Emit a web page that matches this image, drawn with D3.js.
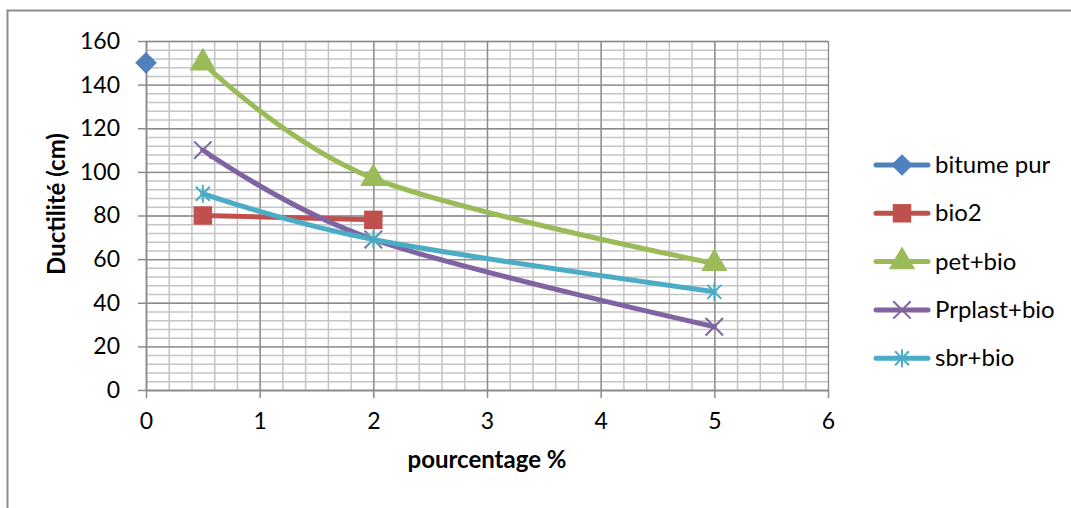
<html>

<head>
    <meta charset="utf-8">
    <script src="https://d3js.org/d3.v7.min.js"></script>
    <style type="text/css">
        body {
            margin: 0;
            background-color: #ffffff;
        }

        #mychart {
            width: 1071px;
            height: 508px;
        }

        text {
            font-family: Lato, "Open Sans", sans-serif;
        }
    </style>
</head>

<body>

    <div id="mychart"></div>

    <script type="text/javascript">

        // data
        const seriesNames = ["bitume pur", "bio2", "pet+bio", "Prplast+bio", "sbr+bio"]
        const seriesColors = ["#4F81BD", "#C0504D", "#9BBB59", "#8064A2", "#4BACC6"]
        const seriesMarkers = ["diamond", "square", "triangle", "x", "star"]

        const bitumeX = [0]
        const bitumeY = [150]
        const bio2X = [0.5, 2]
        const bio2Y = [80, 78]
        const petX = [0.5, 2, 5]
        const petY = [150, 97, 58]
        const prplastX = [0.5, 2, 5]
        const prplastY = [110, 69, 29]
        const sbrX = [0.5, 2, 5]
        const sbrY = [90, 69, 45]

        const xTicks = [0, 1, 2, 3, 4, 5, 6]
        const yTicks = [0, 20, 40, 60, 80, 100, 120, 140, 160]

        const xTitle = "pourcentage %"
        const yTitle = "Ductilité (cm)"

        const allX = [bitumeX, bio2X, petX, prplastX, sbrX]
        const allY = [bitumeY, bio2Y, petY, prplastY, sbrY]

        const width = 1071
        const height = 508

        const plotLeft = 146
        const plotRight = 828
        const plotTop = 41
        const plotBottom = 390

        const svg = d3.select("#mychart").append("svg")
            .attr("width", width)
            .attr("height", height)

        // outer chart border
        svg.append("rect")
            .attr("x", 7.5)
            .attr("y", 10.5)
            .attr("width", width + 10)
            .attr("height", height + 10)
            .attr("fill", "none")
            .attr("stroke", "#8c8c8c")
            .attr("stroke-width", 2)

        const x = d3.scaleLinear().domain([0, 6]).range([plotLeft, plotRight])
        const y = d3.scaleLinear().domain([0, 160]).range([plotBottom, plotTop])

        // minor grid
        svg.append("g")
            .attr("transform", `translate(0,${plotBottom})`)
            .call(d3.axisBottom(x).tickValues(d3.range(0, 30).map(d => d / 5)).tickSize(-(plotBottom - plotTop)).tickFormat(""))
            .call(g => g.select(".domain").remove())
            .call(g => g.selectAll("line").attr("stroke", "#c4c4c4").attr("stroke-width", 1.5))

        svg.append("g")
            .attr("transform", `translate(${plotLeft},0)`)
            .call(d3.axisLeft(y).tickValues(d3.range(0, 41).map(d => d * 4)).tickSize(-(plotRight - plotLeft)).tickFormat(""))
            .call(g => g.select(".domain").remove())
            .call(g => g.selectAll("line").attr("stroke", "#c4c4c4").attr("stroke-width", 1.5))

        // major grid
        svg.append("g")
            .attr("transform", `translate(0,${plotBottom})`)
            .call(d3.axisBottom(x).tickValues(xTicks).tickSize(-(plotBottom - plotTop)).tickFormat(""))
            .call(g => g.select(".domain").remove())
            .call(g => g.selectAll("line").attr("stroke", "#8a8a8a").attr("stroke-width", 1.3))

        svg.append("g")
            .attr("transform", `translate(${plotLeft},0)`)
            .call(d3.axisLeft(y).tickValues(yTicks).tickSize(-(plotRight - plotLeft)).tickFormat(""))
            .call(g => g.select(".domain").remove())
            .call(g => g.selectAll("line").attr("stroke", "#8a8a8a").attr("stroke-width", 1.3))

        // axes with outside ticks
        svg.append("g")
            .attr("transform", `translate(0,${plotBottom})`)
            .call(d3.axisBottom(x).tickValues(xTicks).tickFormat(d3.format("d")).tickSize(8).tickSizeOuter(0).tickPadding(15))
            .call(g => g.select(".domain").attr("stroke", "#8a8a8a").attr("stroke-width", 1.5))
            .call(g => g.selectAll("line").attr("stroke", "#8a8a8a").attr("stroke-width", 1.5))
            .call(g => g.selectAll("text").attr("font-size", 23).attr("fill", "#000").style("font-family", "Lato"))

        svg.append("g")
            .attr("transform", `translate(${plotLeft},0)`)
            .call(d3.axisLeft(y).tickValues(yTicks).tickSize(8).tickSizeOuter(0).tickPadding(18))
            .call(g => g.select(".domain").attr("stroke", "#8a8a8a").attr("stroke-width", 1.5))
            .call(g => g.selectAll("line").attr("stroke", "#8a8a8a").attr("stroke-width", 1.5))
            .call(g => g.selectAll("text").attr("font-size", 23).attr("fill", "#000").style("font-family", "Lato"))

        // titles
        svg.append("text")
            .attr("x", 487)
            .attr("y", 468)
            .attr("text-anchor", "middle")
            .attr("font-size", 24)
            .attr("font-weight", "bold")
            .text(xTitle)

        svg.append("text")
            .attr("transform", `translate(65,204) rotate(-90)`)
            .attr("text-anchor", "middle")
            .attr("font-size", 24)
            .attr("font-weight", "bold")
            .text(yTitle)

        function markerPath(type) {
            if (type === "diamond") return d3.symbol(d3.symbolDiamond2, 300)()
            if (type === "square") return d3.symbol(d3.symbolSquare, 340)()
            if (type === "triangle") return d3.symbol(d3.symbolTriangle, 300)()
            if (type === "x") return d3.symbol(d3.symbolTimes, 200)()
            return "M0,-9L0,9M-7,-7L7,7M-7,7L7,-7"
        }

        function drawMarker(g, type, color, px, py) {
            const stroked = type === "x" || type === "star"
            g.append("path")
                .attr("d", markerPath(type))
                .attr("transform", `translate(${px},${py})`)
                .attr("fill", stroked ? "none" : color)
                .attr("stroke", color)
                .attr("stroke-width", stroked ? 2 : 0)
        }

        const line = d3.line()
            .x(d => x(d[0]))
            .y(d => y(d[1]))
            .curve(d3.curveCardinal.tension(0))

        const plot = svg.append("g")

        seriesNames.forEach((name, i) => {
            const pts = allX[i].map((v, j) => [v, allY[i][j]])
            if (pts.length > 1) {
                plot.append("path")
                    .datum(pts)
                    .attr("d", line)
                    .attr("fill", "none")
                    .attr("stroke", seriesColors[i])
                    .attr("stroke-width", 5)
                    .attr("stroke-linecap", "round")
            }
        })

        seriesNames.forEach((name, i) => {
            allX[i].forEach((v, j) => {
                drawMarker(plot, seriesMarkers[i], seriesColors[i], x(v), y(allY[i][j]))
            })
        })

        // legend
        const legend = svg.append("g")
        seriesNames.forEach((name, i) => {
            const ly = 165 + i * 48.3
            legend.append("line")
                .attr("x1", 876).attr("x2", 928)
                .attr("y1", ly).attr("y2", ly)
                .attr("stroke", seriesColors[i])
                .attr("stroke-width", 5)
                .attr("stroke-linecap", "round")
            drawMarker(legend, seriesMarkers[i], seriesColors[i], 902, ly)
            legend.append("text")
                .attr("x", 935)
                .attr("y", ly + 8)
                .attr("font-size", 24)
                .text(name)
        })

    </script>
</body>

</html>
